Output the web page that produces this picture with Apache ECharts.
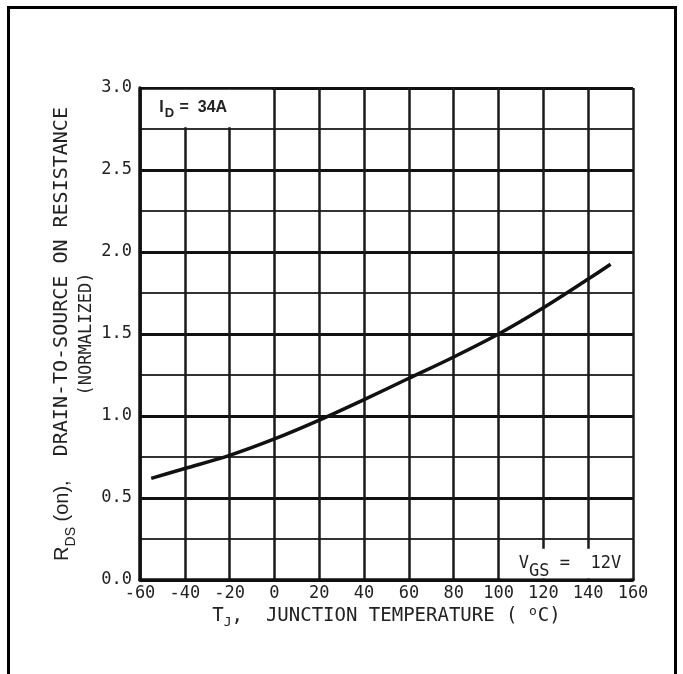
<!DOCTYPE html>
<html>
<head>
<meta charset="utf-8">
<script src="https://cdn.jsdelivr.net/npm/echarts@6/dist/echarts.min.js"></script>
<style>
  html, body { margin: 0; padding: 0; background: #fff; }
  #frame {
    position: absolute; left: 7px; top: 6px; width: 664px; height: 700px;
    border-left: 3px solid #000; border-top: 3px solid #000; border-right: 3px solid #000;
  }
  #chart { position: absolute; left: 0; top: 0; width: 683px; height: 674px; }
</style>
</head>
<body>
<div id="frame"></div>
<div id="chart"></div>
<script>
// Junction temperature (°C) and normalized drain-to-source on-resistance
const junctionTemp = [-55, -40, -20, 0, 20, 40, 60, 80, 100, 120, 140, 150];
const rdsOnNorm = [0.62, 0.68, 0.76, 0.86, 0.975, 1.10, 1.23, 1.36, 1.50, 1.66, 1.835, 1.925];

// Axis ranges
const tempRange = { min: -60, max: 160, step: 20 };
const resRange = { min: 0, max: 3, step: 0.5 };

// Annotation boxes (data units)
const idBox = { x: [-59, -1], y: [2.76, 2.99] };
const vgsBox = { x: [101, 159], y: [0.01, 0.19] };

const mono = '"DejaVu Sans Mono", monospace';
const sans = '"Liberation Sans", Arial, sans-serif';

const chart = echarts.init(document.getElementById('chart'), null, { renderer: 'canvas' });

chart.setOption({
  animation: false,
  backgroundColor: 'transparent',
  grid: { left: 140, top: 88, right: 50, bottom: 94, containLabel: false },
  xAxis: {
    type: 'value',
    min: tempRange.min, max: tempRange.max, interval: tempRange.step,
    axisLine: { show: true, onZero: false, lineStyle: { color: '#111', width: 3.5 } },
    axisTick: { show: false },
    axisLabel: { fontFamily: mono, fontSize: 17, color: '#222', margin: 5 },
    splitLine: { show: true, lineStyle: { color: '#1a1a1a', width: 2.5 } },
    name: '{t|T}{s|J}{t|,  JUNCTION TEMPERATURE ( }{sup|o}{t|C)}',
    nameLocation: 'middle',
    nameGap: 27,
    nameMoveOverlap: false,
    nameTextStyle: {
      rich: {
        t: { fontFamily: mono, fontSize: 19, color: '#222', lineHeight: 20, verticalAlign: 'top' },
        s: { fontFamily: mono, fontSize: 13, color: '#222', lineHeight: 13, verticalAlign: 'top', padding: [9, 0, 0, 0] },
        sup: { fontFamily: mono, fontSize: 13, color: '#222', lineHeight: 13, verticalAlign: 'top', padding: [-2, 1, 0, 0] }
      }
    }
  },
  yAxis: {
    type: 'value',
    min: resRange.min, max: resRange.max, interval: resRange.step,
    axisLine: { show: true, onZero: false, lineStyle: { color: '#111', width: 3.5 } },
    axisTick: { show: false },
    minorTick: { show: false, splitNumber: 2 },
    axisLabel: { fontFamily: mono, fontSize: 17, color: '#222', margin: 8,
      formatter: v => v.toFixed(1) },
    splitLine: { show: true, lineStyle: { color: '#111', width: 3 } },
    minorSplitLine: { show: true, lineStyle: { color: '#333', width: 2 } },
    name: '{r|R}{s|DS}{r| (on),}{m|  DRAIN-TO-SOURCE ON RESISTANCE}\n{n|(NORMALIZED)}',
    nameLocation: 'middle',
    nameRotate: 90,
    nameGap: 34,
    nameMoveOverlap: false,
    nameTextStyle: {
      align: 'center',
      rich: {
        r: { fontFamily: sans, fontSize: 20, color: '#222', lineHeight: 26, verticalAlign: 'top' },
        s: { fontFamily: sans, fontSize: 14, color: '#222', lineHeight: 14, verticalAlign: 'top', padding: [12, 0, 0, 0] },
        m: { fontFamily: mono, fontSize: 20, color: '#222', lineHeight: 26, verticalAlign: 'top' },
        n: { fontFamily: mono, fontSize: 17, color: '#222', lineHeight: 28, verticalAlign: 'top' }
      }
    }
  },
  series: [{
    type: 'line',
    data: junctionTemp.map((t, i) => [t, rdsOnNorm[i]]),
    smooth: 0.3,
    symbol: 'none',
    lineStyle: { color: '#111', width: 3.5 },
    z: 3,
    markArea: {
      silent: true,
      z: 1,
      itemStyle: { color: '#fff', borderWidth: 0 },
      data: [
        [
          { xAxis: idBox.x[0], yAxis: idBox.y[0],
            label: {
              show: true, position: 'insideLeft', distance: 17,
              formatter: '{a|I}{b|D}{a| =  34A}',
              rich: {
                a: { fontFamily: sans, fontWeight: 'bold', fontSize: 16, color: '#222', lineHeight: 18, verticalAlign: 'top' },
                b: { fontFamily: sans, fontWeight: 'bold', fontSize: 13, color: '#222', lineHeight: 13, verticalAlign: 'top', padding: [7, 1, 0, 1] }
              }
            } },
          { xAxis: idBox.x[1], yAxis: idBox.y[1] }
        ],
        [
          { xAxis: vgsBox.x[0], yAxis: vgsBox.y[0],
            label: {
              show: true, position: 'insideLeft', distance: 18,
              formatter: '{a|V}{b|GS}{a| =  12V}',
              rich: {
                a: { fontFamily: mono, fontSize: 17, color: '#222', lineHeight: 18, verticalAlign: 'top' },
                b: { fontFamily: mono, fontSize: 17, color: '#222', lineHeight: 15, verticalAlign: 'top', padding: [8, 0, 0, 0] }
              }
            } },
          { xAxis: vgsBox.x[1], yAxis: vgsBox.y[1] }
        ]
      ]
    }
  }]
});
</script>
</body>
</html>
